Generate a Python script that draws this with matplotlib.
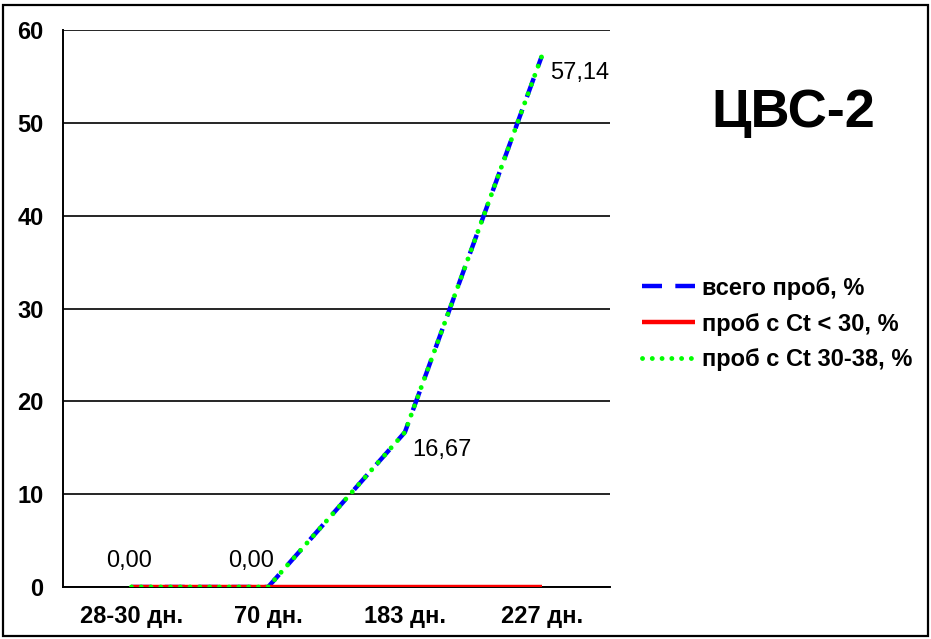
import matplotlib
matplotlib.use("Agg")
import matplotlib.pyplot as plt
from matplotlib.patches import Rectangle

plt.rcParams['font.family'] = ['Liberation Sans', 'DejaVu Sans']

categories = ["28-30 дн.", "70 дн.", "183 дн.", "227 дн."]
total = [0.0, 0.0, 16.67, 57.14]
ct_lt30 = [0.0, 0.0, 0.0, 0.0]
ct_30_38 = [0.0, 0.0, 16.67, 57.14]
yticks = [0, 10, 20, 30, 40, 50, 60]
title = "ЦВС-2"

W, H = 931, 639
fig = plt.figure(figsize=(W / 100, H / 100), dpi=100)
ax = fig.add_axes([63 / W, 1 - 587 / H, (610 - 63) / W, (587 - 30) / H])
x = list(range(len(categories)))

ax.plot(x, total, color="#0000ff", lw=3.2, dashes=(4.5, 3.0), label="всего проб, %", zorder=3)
ax.plot(x, ct_lt30, color="#ff0000", lw=3.2, solid_capstyle="butt", label="проб с Ct < 30, %", zorder=4)
ax.plot(x, ct_30_38, color="#00ff00", lw=3.5, dashes=(0.01, 2.0), dash_capstyle="round", label="проб с Ct 30-38, %", zorder=5)

ax.set_xlim(-0.5, 3.5)
ax.set_ylim(0, 60)
ax.set_yticks(yticks)
ax.set_xticks(x)
ax.set_xticklabels(categories)
for t in ax.get_xticklabels() + ax.get_yticklabels():
    t.set_fontweight("bold")
    t.set_fontsize(17)
ax.tick_params(axis="y", length=0, pad=14)
ax.tick_params(axis="x", length=0, pad=13)
ax.grid(axis="y", color="black", lw=1.2)
ax.set_axisbelow(True)
for s in ["top", "right"]:
    ax.spines[s].set_visible(False)
ax.spines["left"].set_linewidth(1.4)
ax.spines["bottom"].set_linewidth(1.4)

def fmt(v):
    return f"{v:.2f}".replace(".", ",")

lab = dict(textcoords="offset points", fontsize=17)
ax.annotate(fmt(total[0]), (0, total[0]), xytext=(-2, 19), ha="center", va="center", **lab)
ax.annotate(fmt(total[1]), (1, total[1]), xytext=(-12, 19), ha="center", va="center", **lab)
ax.annotate(fmt(total[2]), (2, total[2]), xytext=(5, -13), ha="left", va="center", **lab)
ax.annotate(fmt(total[3]), (3, total[3]), xytext=(6, -12), ha="left", va="center", **lab)

leg = fig.legend(loc="center left", bbox_to_anchor=(642 / W, 1 - 324 / H), frameon=False,
                 handlelength=2.25, handletextpad=0.3, labelspacing=0.55,
                 borderpad=0, borderaxespad=0,
                 prop={"weight": "bold", "size": 17})

fig.text(793.5 / W, 1 - 127 / H, title, ha="center", va="baseline", fontsize=39, fontweight="bold")

fig.patches.append(Rectangle((3 / W, 3 / H), (928 - 3) / W, (636 - 5) / H, transform=fig.transFigure,
                             fill=False, edgecolor="black", lw=1.6))

fig.savefig("out.png", dpi=100)
